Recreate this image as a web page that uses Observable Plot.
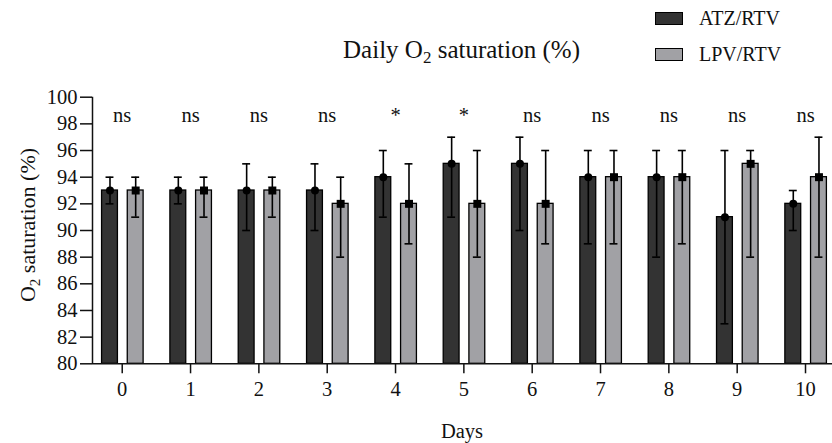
<!DOCTYPE html>
<html>
<head>
<meta charset="utf-8">
<script src="https://cdn.jsdelivr.net/npm/d3@7"></script>
<script src="https://cdn.jsdelivr.net/npm/@observablehq/plot@0.6"></script>
<style>
  html, body { margin: 0; padding: 0; background: #fff; }
  #wrap { position: relative; width: 832px; height: 443px; font-family: "Liberation Serif", "Times New Roman", serif; color: #111; }
  #wrap svg { position: absolute; left: 0; top: 0; }
  .title { position: absolute; top: 37px; left: 461.5px; transform: translateX(-50%); font-size: 25px; line-height: 25px; white-space: nowrap; }
  .title sub { font-size: 17px; vertical-align: -5px; line-height: 0; }
  .sw { position: absolute; left: 655px; width: 28px; height: 13px; box-sizing: border-box; border: 1.2px solid #000; }
  .lt { position: absolute; left: 699px; font-size: 20px; line-height: 20px; white-space: nowrap; }
  g[aria-label="x-axis tick"] path, g[aria-label="y-axis tick"] path { stroke-width: 1.5px; stroke: #111; }
</style>
</head>
<body>
<div id="wrap"></div>
<script>
// ---- data ----
const days = [0, 1, 2, 3, 4, 5, 6, 7, 8, 9, 10];
const groups = ["ATZ/RTV", "LPV/RTV"];
const atzMean = [93, 93, 93, 93, 94, 95, 95, 94, 94, 91, 92];
const atzLow  = [92, 92, 90, 90, 91, 91, 90, 89, 88, 83, 90];
const atzHigh = [94, 94, 95, 95, 96, 97, 97, 96, 96, 96, 93];
const lpvMean = [93, 93, 93, 92, 92, 92, 92, 94, 94, 95, 94];
const lpvLow  = [91, 91, 91, 88, 89, 88, 89, 89, 89, 88, 88];
const lpvHigh = [94, 94, 94, 94, 95, 96, 96, 96, 96, 96, 97];
const signif  = ["ns", "ns", "ns", "ns", "*", "*", "ns", "ns", "ns", "ns", "ns"];
const yTicks  = [80, 82, 84, 86, 88, 90, 92, 94, 96, 98, 100];
const sigLevel = 98.6;

// ---- layout / style (not data) ----
const colors = {"ATZ/RTV": "#333333", "LPV/RTV": "#a1a1a5"};
const offset = {"ATZ/RTV": -0.179, "LPV/RTV": 0.197};   // in day units
const barHalf = 0.116;
const capHalf = 0.058;
const xDomain = [-0.435, 10.395];

const rows = [];
days.forEach((d, i) => {
  rows.push({day: d, group: groups[0], mean: atzMean[i], low: atzLow[i], high: atzHigh[i]});
  rows.push({day: d, group: groups[1], mean: lpvMean[i], low: lpvLow[i], high: lpvHigh[i]});
});
const sig = days.map((d, i) => ({day: d, label: signif[i]}));
const xc = r => r.day + offset[r.group];

const chart = Plot.plot({
  width: 832,
  height: 443,
  marginLeft: 92,
  marginRight: 0,
  marginTop: 96.7,
  marginBottom: 79.7,
  style: {fontFamily: "Liberation Serif, Times New Roman, serif", fontSize: "20.5px", background: "transparent", color: "#111"},
  x: {type: "linear", domain: xDomain, ticks: days, tickFormat: d => String(d), tickSize: 10, tickPadding: 8, label: null},
  y: {domain: [80, 100], ticks: yTicks, tickSize: 12, tickPadding: 3, label: null},
  marks: [
    Plot.rectY(rows, {
      x1: r => xc(r) - barHalf, x2: r => xc(r) + barHalf,
      y1: 80, y2: "mean",
      fill: r => colors[r.group], stroke: "#000", strokeWidth: 1.3
    }),
    Plot.ruleX(rows, {x: xc, y1: "low", y2: "high", stroke: "#000", strokeWidth: 1.6}),
    Plot.ruleY(rows, {y: "high", x1: r => xc(r) - capHalf, x2: r => xc(r) + capHalf, stroke: "#000", strokeWidth: 1.6}),
    Plot.ruleY(rows, {y: "low", x1: r => xc(r) - capHalf, x2: r => xc(r) + capHalf, stroke: "#000", strokeWidth: 1.6}),
    Plot.dot(rows.filter(r => r.group === groups[0]), {x: xc, y: "mean", r: 4, fill: "#000", stroke: "none", symbol: "circle"}),
    Plot.dot(rows.filter(r => r.group === groups[1]), {x: xc, y: "mean", r: 4.5, fill: "#000", stroke: "none", symbol: "square"}),
    Plot.text(sig, {x: "day", y: () => sigLevel, text: "label", fontSize: 20.5, fill: "#111", textAnchor: "middle", lineAnchor: "middle"}),
    Plot.ruleX([xDomain[0]], {y1: 80, y2: 100, stroke: "#111", strokeWidth: 1.5}),
    Plot.ruleY([80], {stroke: "#111", strokeWidth: 1.5})
  ]
});

const wrap = document.getElementById("wrap");
wrap.appendChild(chart);

// axis titles (with subscript) as real SVG text
const svg = d3.select(chart);
const yl = svg.append("text")
  .attr("transform", "translate(35,225) rotate(-90)")
  .attr("text-anchor", "middle")
  .attr("font-size", 22)
  .attr("fill", "#111");
yl.append("tspan").text("O");
yl.append("tspan").attr("font-size", 15).attr("dy", 5).text("2");
yl.append("tspan").attr("dy", -5).text(" saturation (%)");

svg.append("text")
  .attr("x", 462).attr("y", 438)
  .attr("text-anchor", "middle")
  .attr("font-size", 20.5)
  .attr("fill", "#111")
  .text("Days");

// title and legend
const title = document.createElement("div");
title.className = "title";
title.innerHTML = "Daily O<sub>2</sub> saturation (%)";
wrap.appendChild(title);

const legendTops = [[11.7, 8.3], [47.5, 44.3]];
groups.forEach((g, i) => {
  const sw = document.createElement("div");
  sw.className = "sw";
  sw.style.top = legendTops[i][0] + "px";
  sw.style.background = colors[g];
  wrap.appendChild(sw);
  const lt = document.createElement("div");
  lt.className = "lt";
  lt.style.top = legendTops[i][1] + "px";
  lt.textContent = g;
  wrap.appendChild(lt);
});
</script>
</body>
</html>
